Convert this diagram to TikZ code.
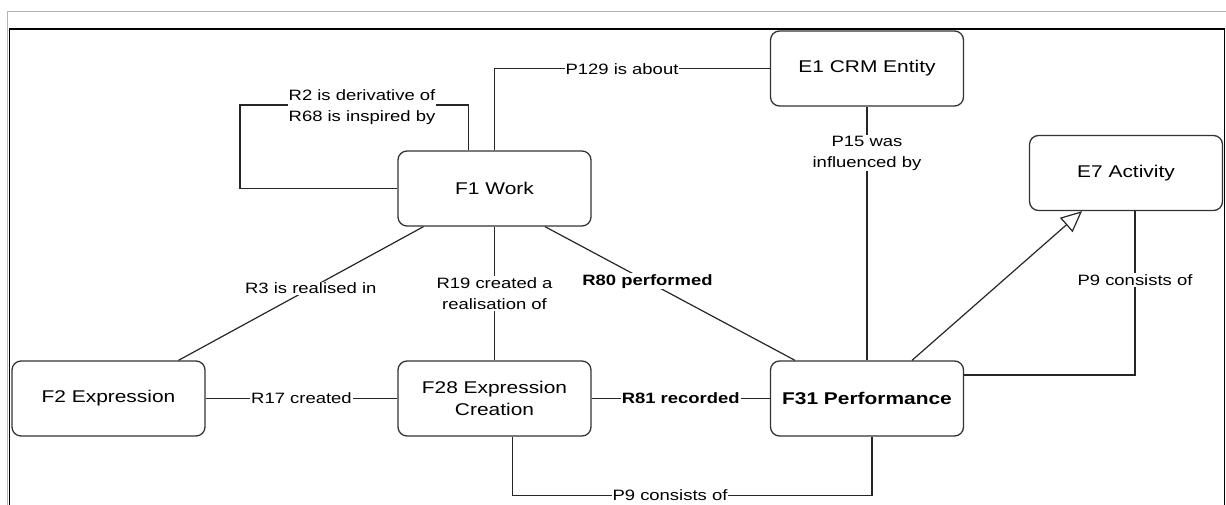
\documentclass[tikz,border=0pt]{standalone}
\usepackage{fontspec}
\setmainfont{Liberation Sans}[FakeStretch=1.23]
\usetikzlibrary{positioning,arrows.meta}

\begin{document}
\begin{tikzpicture}[x=1pt,y=-1pt,
                entity/.style={rounded corners=9,draw=black!80,line width=1.3,fill=white,minimum width=193,minimum height=75,align=center,font=\fontsize{17}{22}\selectfont},
                prop/.style={fill=white,inner sep=1,align=center,font=\fontsize{15}{21}\selectfont},
                link/.style={draw=black!85,line width=1.2}
            ]
                \useasboundingbox (0,0) rectangle (1226,505);
                \draw[black!30,line width=1] (7,505) -- (7,12) -- (1226,12);
                \draw[black,line width=1.5] (9.5,505) -- (9.5,29) -- (1224.5,29) -- (1224.5,505);

                \foreach \name/\x/\y/\txt in {F1/494.5/188.5/{F1 Work},
                                              E1/867/68.5/{E1 CRM Entity},
                                              E7/1126/173/{E7 Activity},
                                              F2/108.5/398.5/{F2 Expression},
                                              F28/494.5/398.5/{F28 Expression\\Creation}}
                    {
                    \node[entity] (\name) at (\x,\y) {\txt};
                }
                \node[entity,font=\fontsize{17}{22}\selectfont\bfseries] (F31) at (867,398.5) {F31 Performance};

% links between the classes, labels sit on the lines
                \draw[link] (F1.west) -| (240,105) -| ([xshift=-26]F1.north);
                \node[prop] (r2) at (362,107) {R2 is derivative of\\R68 is inspired by};
                \draw[link] (F1.north) |- (E1.west);
                \node[prop] (p129) at (622,69) {P129 is about};
                \draw[link] (E1.south) -- (F31.north);
                \node[prop] (p15) at (867,153) {P15 was\\influenced by};
                \draw[link,-{Triangle[open,length=21,width=19,line width=1.2]}] ([xshift=45]F31.north) -- ([xshift=-44]E7.south);
                \draw[link] ([xshift=9]E7.south) |- ([yshift=23.5]F31.east);
                \node[prop] (p9a) at (1135,280) {P9 consists of};
                \draw[link] ([xshift=50.5]F1.south) -- ([xshift=-72]F31.north)
                    node[prop,pos=0.41,font=\fontsize{15}{21}\selectfont\bfseries] (r80) {R80 performed};
                \draw[link] (F1.south) -- (F28.north)
                    node[prop,midway] (r19) {R19 created a\\realisation of};
                \draw[link] ([xshift=-71]F1.south) -- ([xshift=70]F2.north)
                    node[prop,pos=0.46] (r3) {R3 is realised in};
                \draw[link] (F2.east) -- (F28.west)
                    node[prop,midway] (r17) {R17 created};
                \draw[link] (F28.east) -- (F31.west)
                    node[prop,midway,font=\fontsize{15}{21}\selectfont\bfseries] (r81) {R81 recorded};
                \draw[link] ([xshift=18]F28.south) -- ++(0,59) -| ([xshift=5]F31.south);
                \node[prop] (p9b) at (670,495) {P9 consists of};

            \end{tikzpicture}
\end{document}
